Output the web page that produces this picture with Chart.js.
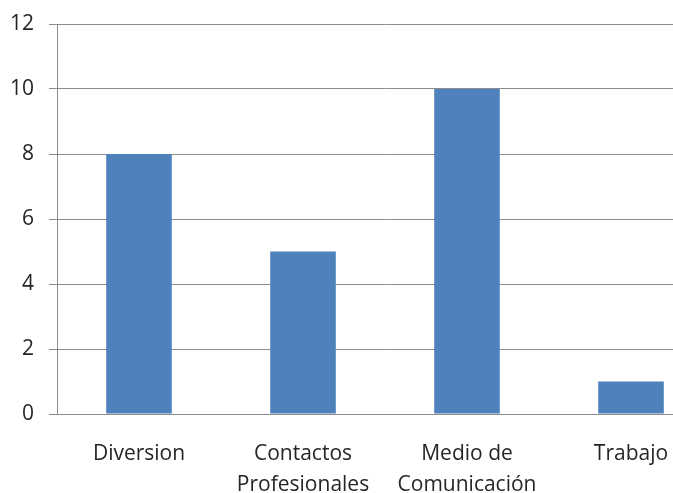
<!DOCTYPE html>
<html>
<head>
<meta charset="utf-8">
<script src="https://cdn.jsdelivr.net/npm/chart.js@4"></script>
<style>
  html, body { margin: 0; padding: 0; background: #fff; overflow: hidden; }
  #wrap { width: 713px; height: 493px; }
</style>
</head>
<body>
<div id="wrap"><canvas id="barChart"></canvas></div>
<script>
var categories = ['Diversion', ['Contactos', 'Profesionales'], ['Medio de', 'Comunicación'], 'Trabajo'];
var values = [8, 5, 10, 1];
var yTicks = [0, 2, 4, 6, 8, 10, 12];

var gridGray = '#8c8c8c';

var data = {
    labels: categories,
    datasets: [{
        label: 'Serie 1',
        backgroundColor: '#4f81bd',
        data: values,
        barPercentage: 0.4,
        categoryPercentage: 1.0,
    }]
};

var barConfig = {
    type: 'bar',
    data,
    options: {
        responsive: true,
        maintainAspectRatio: false,
        animation: false,
        layout: { padding: { top: 24, left: 0, right: 0, bottom: 0 } },
        plugins: {
            legend: { display: false },
            tooltip: { enabled: false },
        },
        scales: {
            x: {
                afterFit: function (axis) {
                    axis.height = 79;
                    axis.paddingLeft = 0;
                    axis.paddingRight = 0;
                },
                grid: { display: false },
                border: { display: true, color: gridGray },
                ticks: {
                    color: '#262626',
                    font: { family: 'Open Sans', size: 21, lineHeight: 1.48 },
                    padding: 16,
                    maxRotation: 0,
                    autoSkip: false,
                },
            },
            y: {
                min: 0,
                max: 12,
                afterBuildTicks: function (axis) {
                    axis.ticks = yTicks.map(function (v) { return { value: v }; });
                },
                afterFit: function (axis) {
                    axis.width = 57;
                    axis.paddingTop = 0;
                    axis.paddingBottom = 0;
                },
                grid: { color: gridGray, tickLength: 8 },
                border: { display: true, color: gridGray },
                ticks: {
                    color: '#262626',
                    font: { family: 'Open Sans', size: 21 },
                    padding: 15,
                },
            },
        },
    },
};

var barChart = new Chart(
    document.getElementById('barChart'),
    barConfig,
);
</script>
</body>
</html>
